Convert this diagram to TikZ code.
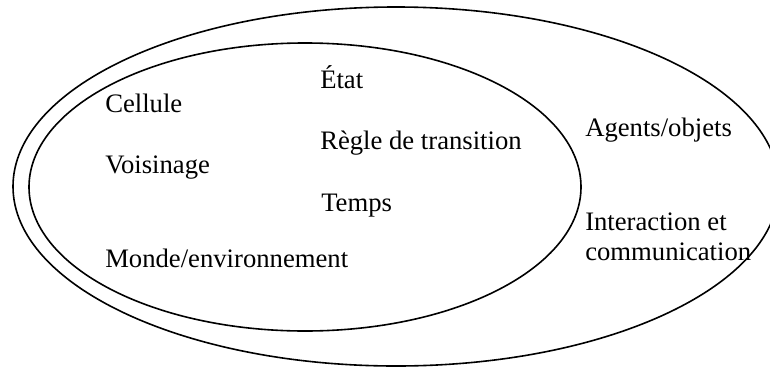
\documentclass[tikz,border=0pt]{standalone}
\usepackage{fontspec}
\setmainfont{Liberation Serif}
\begin{document}
\begin{tikzpicture}[x=0.75pt,y=-0.75pt,
  label text/.style={anchor=base west,inner sep=0pt,font=\fontsize{20}{23}\selectfont,align=left},
  set line/.style={draw=black,line width=1.2pt}]
\useasboundingbox (0,0) rectangle (770,368);
% outer set: agent-based models
\draw[set line] (396,186.5) ellipse [x radius=383, y radius=179.5];
% inner set: cellular automata
\draw[set line] (305,187) ellipse [x radius=276, y radius=144];
% concepts of the inner set
\node[label text] (etat) at (320,88) {État};
\node[label text] (cellule) at (105,112.5) {Cellule};
\node[label text] (regle) at (320,149.5) {Règle de transition};
\node[label text] (voisinage) at (105,173) {Voisinage};
\node[label text] (temps) at (321,211) {Temps};
\node[label text] (monde) at (105,267) {Monde/environnement};
% concepts of the outer set only
\node[label text] (agents) at (585,136) {Agents/objets};
\node[label text] (interaction) at (585,230) {Interaction et};
\node[label text] (communication) at (585,260) {communication};
\end{tikzpicture}
\end{document}
